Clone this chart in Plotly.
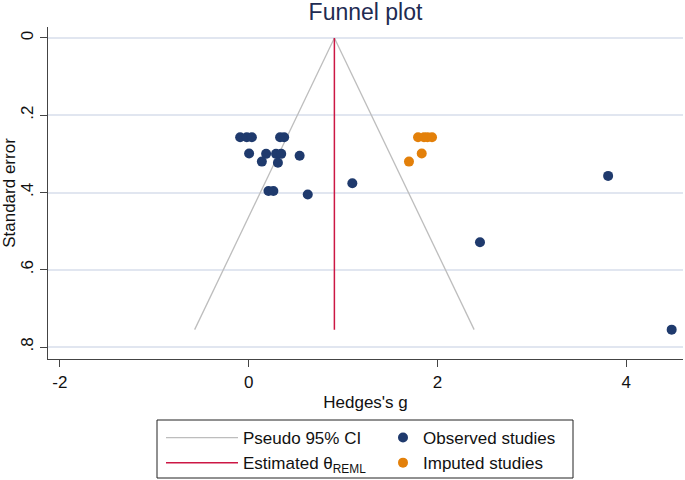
import plotly.graph_objects as go

# ---- data ----
obs_g = [-0.09, -0.02, 0.034, 0.333, 0.376,
         0.005, 0.185, 0.29, 0.345, 0.54,
         0.14, 0.31,
         0.21, 0.262, 0.626,
         1.098, 3.807, 2.45, 4.48]
obs_se = [0.257, 0.257, 0.257, 0.257, 0.257,
          0.299, 0.300, 0.300, 0.300, 0.305,
          0.320, 0.323,
          0.396, 0.396, 0.405,
          0.376, 0.357, 0.529, 0.755]

imp_g = [1.794, 1.857, 1.894, 1.942, 1.833, 1.698]
imp_se = [0.257, 0.257, 0.257, 0.257, 0.299, 0.320]

theta = 0.908
ci_se = [0.0, 0.755]
ci_lower = [0.908, -0.572]
ci_upper = [0.908, 2.388]
theta_x = [theta, theta]
theta_se = [0.0, 0.755]

x_ticks = [-2, 0, 2, 4]
x_ticktext = ["-2", "0", "2", "4"]
y_ticks = [0, 0.2, 0.4, 0.6, 0.8]
y_ticktext = ["0", ".2", ".4", ".6", ".8"]

NAVY = "#1f3a6d"
ORANGE = "#e3800a"
GRAY = "#bdbdbd"
RED = "#cc1744"
FONT = "Liberation Sans, Arial, sans-serif"

W, H = 685, 480
ML, MR, MT, MB = 48, 2, 27, 121

fig = go.Figure()

fig.add_trace(go.Scatter(
    x=ci_lower + [None] + ci_upper[::-1],
    y=ci_se + [None] + ci_se[::-1],
    mode="lines", line=dict(color=GRAY, width=1.3),
    name="Pseudo 95% CI", connectgaps=False, legend="legend"))
fig.add_trace(go.Scatter(
    x=theta_x, y=theta_se, mode="lines",
    line=dict(color=RED, width=1.5),
    name="Estimated θ<sub>REML</sub>", legend="legend"))
fig.add_trace(go.Scatter(
    x=obs_g, y=obs_se, mode="markers",
    marker=dict(color=NAVY, size=10, line=dict(width=0)),
    name="Observed studies", legend="legend2"))
fig.add_trace(go.Scatter(
    x=imp_g, y=imp_se, mode="markers",
    marker=dict(color=ORANGE, size=10, line=dict(width=0)),
    name="Imputed studies", legend="legend2"))

pw = W - ML - MR
ph = H - MT - MB


def px_to_paper_x(px):
    return (px - ML) / pw


def px_to_paper_y(py):
    return (H - MB - py) / ph


legend_common = dict(orientation="v", xref="paper", yref="paper",
                     yanchor="top", xanchor="left",
                     bgcolor="rgba(0,0,0,0)", borderwidth=0,
                     font=dict(family=FONT, size=17, color="#111111"),
                     traceorder="normal")

fig.update_layout(
    width=W, height=H,
    margin=dict(l=ML, r=MR, t=MT, b=MB, autoexpand=False),
    paper_bgcolor="white", plot_bgcolor="white",
    font=dict(family=FONT, size=17, color="#111111"),
    title=dict(text="Funnel plot", x=0.5, xref="paper", xanchor="center",
               y=1 - 12 / H, yanchor="middle",
               font=dict(family=FONT, size=23, color="#1e2b52")),
    showlegend=True,
    legend=dict(x=px_to_paper_x(161), y=px_to_paper_y(420), itemwidth=72,
                **legend_common),
    legend2=dict(x=px_to_paper_x(383), y=px_to_paper_y(420), itemwidth=30,
                 **legend_common),
    shapes=[dict(type="rect", xref="paper", yref="paper",
                 x0=px_to_paper_x(157), x1=px_to_paper_x(573),
                 y0=px_to_paper_y(478), y1=px_to_paper_y(420),
                 line=dict(color="#222222", width=1), layer="above")],
    xaxis=dict(range=[-2.125, 4.60], tickvals=x_ticks, ticktext=x_ticktext,
               showgrid=False, zeroline=False,
               showline=True, linecolor="#444444", linewidth=1.2,
               ticks="outside", ticklen=7, tickcolor="#444444",
               tickfont=dict(size=17, color="#111111"),
               title=dict(text="Hedges's g", standoff=5,
                          font=dict(size=17))),
    yaxis=dict(range=[0.831, -0.0284], tickvals=y_ticks, ticktext=y_ticktext,
               tickangle=-90,
               showgrid=True, gridcolor="#e1e6f0", gridwidth=1.5,
               zeroline=False,
               showline=True, linecolor="#444444", linewidth=1.2,
               ticks="outside", ticklen=7, tickcolor="#444444",
               tickfont=dict(size=17, color="#111111"),
               title=dict(text="Standard error", standoff=1,
                          font=dict(size=17))),
)

fig.write_html(
    "out.html",
    config={"displayModeBar": False},
    post_script="document.body.style.margin='0px';document.body.style.padding='0px';",
)
